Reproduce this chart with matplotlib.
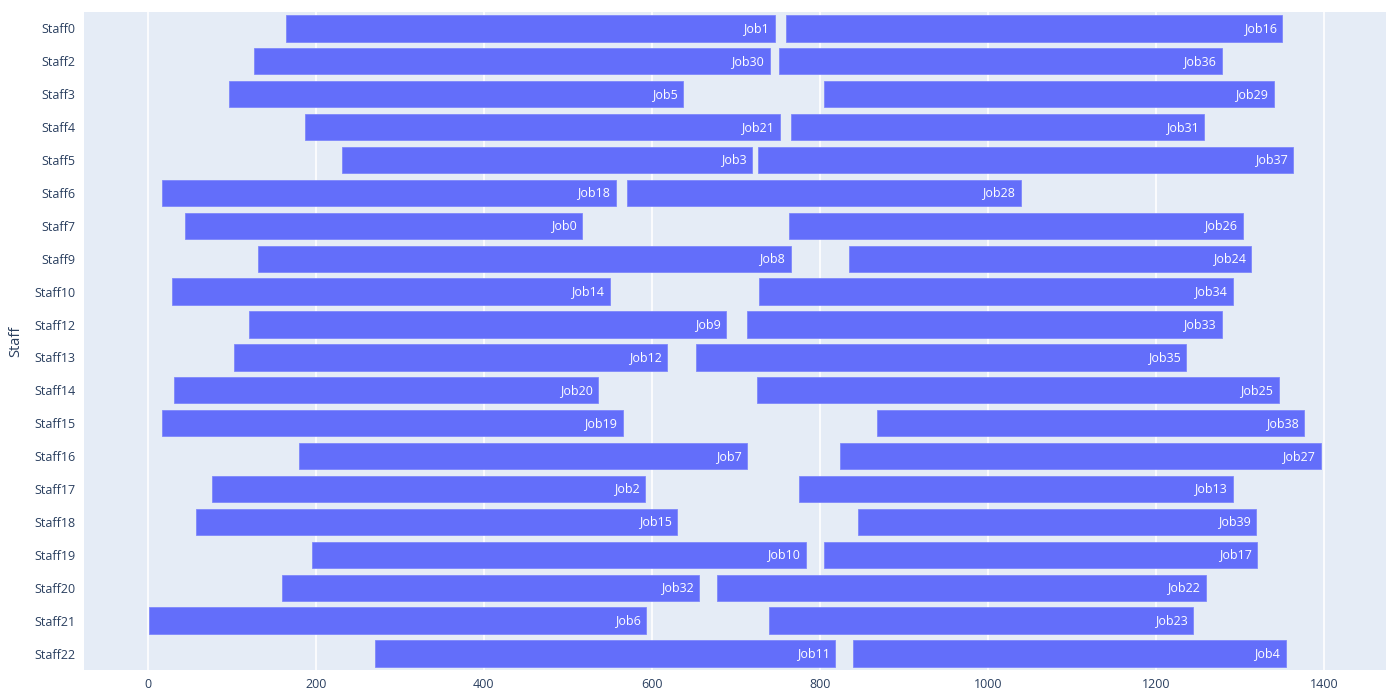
import matplotlib
matplotlib.use("Agg")
import matplotlib.pyplot as plt

plt.rcParams["font.family"] = ["Open Sans", "DejaVu Sans"]

# Données
staff = ["Staff0", "Staff2", "Staff3", "Staff4", "Staff5", "Staff6", "Staff7", "Staff9",
         "Staff10", "Staff12", "Staff13", "Staff14", "Staff15", "Staff16", "Staff17",
         "Staff18", "Staff19", "Staff20", "Staff21", "Staff22"]

job_a = ["Job1", "Job30", "Job5", "Job21", "Job3", "Job18", "Job0", "Job8", "Job14", "Job9",
         "Job12", "Job20", "Job19", "Job7", "Job2", "Job15", "Job10", "Job32", "Job6", "Job11"]
start_a = [165, 126, 97, 187, 231, 17, 44, 131, 29, 120,
           103, 31, 17, 180, 76, 57, 195, 160, 1.5, 270]
end_a = [746, 740, 637, 752, 719, 557, 517, 765, 550, 688,
         618, 536, 565, 713, 592, 630, 783, 656, 593, 818]

job_b = ["Job16", "Job36", "Job29", "Job31", "Job37", "Job28", "Job26", "Job24", "Job34", "Job33",
         "Job35", "Job25", "Job38", "Job27", "Job13", "Job39", "Job17", "Job22", "Job23", "Job4"]
start_b = [759, 751, 805, 765, 726, 570, 763, 834, 727, 713,
           652, 725, 868, 824, 775, 845, 805, 677, 739, 839]
end_b = [1350, 1278, 1340, 1257, 1363, 1039, 1303, 1313, 1291, 1278,
         1236, 1346, 1376, 1396, 1291, 1319, 1320, 1259, 1244, 1354]

bar_color = "#636efa"
bg_color = "#E5ECF6"
text_color = "#2a3f5f"

fig = plt.figure(figsize=(14, 6.92), dpi=100)
ax = fig.add_axes([0.06, 0.0318, 0.93, 0.9509])
ax.set_facecolor(bg_color)

y = list(range(len(staff)))

for jobs, starts, ends in [(job_a, start_a, end_a), (job_b, start_b, end_b)]:
    widths = [e - s for s, e in zip(starts, ends)]
    ax.barh(y, widths, left=starts, height=0.8, color=bar_color,
            edgecolor="#7f88fb", linewidth=0.6, zorder=3)
    for yi, e, name in zip(y, ends, jobs):
        ax.annotate(name, (e, yi), xytext=(-4, 0), textcoords="offset points",
                    ha="right", va="center", color="white", fontsize=9, zorder=4)

ax.set_xlim(-75.8, 1473.5)
ax.set_ylim(len(staff) - 0.5, -0.5)
ax.set_xticks(range(0, 1401, 200))
ax.set_yticks(y)
ax.set_yticklabels(staff)

ax.grid(axis="x", color="white", linewidth=1.2, zorder=0)
ax.set_axisbelow(True)
for s in ax.spines.values():
    s.set_visible(False)
ax.tick_params(length=0, labelsize=9, colors=text_color, pad=6)
ax.set_ylabel("Staff", fontsize=10.5, color=text_color, labelpad=8)

plt.savefig("out.png", dpi=100)
